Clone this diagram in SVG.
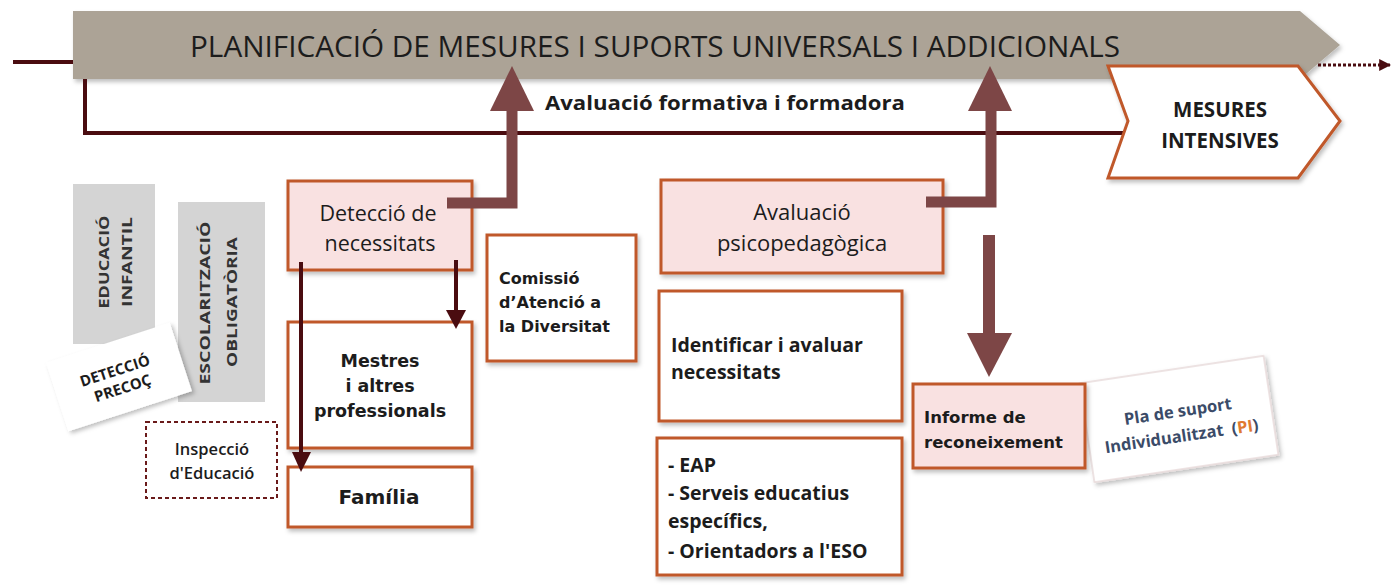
<svg xmlns="http://www.w3.org/2000/svg" width="1394" height="585" viewBox="0 0 1394 585">
<defs>
<filter id="sh" x="-10%" y="-10%" width="125%" height="130%">
<feDropShadow dx="2" dy="3" stdDeviation="2" flood-color="#000" flood-opacity="0.25"/>
</filter>
<marker id="ahd" viewBox="0 0 10 10" refX="9" refY="5" markerWidth="4" markerHeight="4" orient="auto" markerUnits="strokeWidth">
<path d="M0,0 L10,5 L0,10 z" fill="#4a0c10"/>
</marker>
</defs>
<style>
.box{fill:#fff;stroke:#c0582a;stroke-width:3}
.pink{fill:#f9e1e1;stroke:#c0582a;stroke-width:3}
.os{font-family:"Open Sans","Liberation Sans",sans-serif;fill:#1c1c1c}
.dj{font-family:"DejaVu Sans","Liberation Sans",sans-serif;font-weight:bold;fill:#1c1c1c}
.gray{fill:#d4d4d4}
.big{fill:#7d4646}
.thin{stroke:#4a0c10;stroke-width:4;fill:none}
.rot{font-family:"Open Sans","Liberation Sans",sans-serif;font-size:15px;font-weight:bold;fill:#333}
</style>

<!-- banner -->
<g id="banner">
<polygon points="73,11 1300,11 1340,45 1300,79 73,79" fill="#aca396" filter="url(#sh)"/>
<text class="os" x="190" y="57" font-size="29" fill="#1a1a1a" textLength="930" lengthAdjust="spacingAndGlyphs">PLANIFICACIÓ DE MESURES I SUPORTS UNIVERSALS I ADDICIONALS</text>
</g>

<g id="bracket">
<line x1="13" y1="62" x2="73" y2="62" class="thin"/>
<polyline points="85,79 85,133 1124,133" class="thin"/>
<line x1="1318" y1="65" x2="1390" y2="65" stroke="#4a0c10" stroke-width="3" stroke-dasharray="3 2" marker-end="url(#ahd)"/>
</g>

<g id="avaluacio-formativa">
<text class="os" x="545" y="110" font-size="19.5" font-weight="bold" textLength="360" lengthAdjust="spacingAndGlyphs">Avaluació formativa i formadora</text>
</g>

<g id="mesures-intensives">
<polygon points="1108,66 1298,66 1340,121 1298,178 1108,178 1128,121" fill="#fff" stroke="#c0582a" stroke-width="3" filter="url(#sh)"/>
<text class="os" x="1220" y="117" font-size="20.5" font-weight="bold" text-anchor="middle">MESURES</text>
<text class="os" x="1220" y="148" font-size="20.5" font-weight="bold" text-anchor="middle">INTENSIVES</text>
</g>

<g id="educacio-infantil">
<rect class="gray" x="73" y="184" width="82" height="160"/>
<text class="rot" text-anchor="middle" transform="translate(109,262) rotate(-90)" textLength="93" lengthAdjust="spacingAndGlyphs">EDUCACIÓ</text>
<text class="rot" text-anchor="middle" transform="translate(132,262) rotate(-90)" textLength="90" lengthAdjust="spacingAndGlyphs">INFANTIL</text>
</g>

<g id="escolaritzacio">
<rect class="gray" x="178" y="202" width="87" height="200"/>
<text class="rot" text-anchor="middle" transform="translate(210,303) rotate(-90)" textLength="163" lengthAdjust="spacingAndGlyphs">ESCOLARITZACIÓ</text>
<text class="rot" text-anchor="middle" transform="translate(237,302) rotate(-90)" textLength="130" lengthAdjust="spacingAndGlyphs">OBLIGATÒRIA</text>
</g>

<g id="deteccio-precoc" transform="translate(119,377) rotate(-18)">
<rect x="-65" y="-36" width="130" height="72" fill="#fff" filter="url(#sh)"/>
<text class="os" x="-2" y="-2" font-size="15" font-weight="bold" fill="#333" text-anchor="middle">DETECCIÓ</text>
<text class="os" x="0" y="17" font-size="15" font-weight="bold" fill="#333" text-anchor="middle">PRECOÇ</text>
</g>

<g id="inspeccio">
<rect x="146" y="422" width="131" height="76" fill="#fff" stroke="#6a1a1a" stroke-width="2" stroke-dasharray="4 3"/>
<text class="os" x="212" y="455" font-size="16.5" font-weight="600" fill="#333" text-anchor="middle">Inspecció</text>
<text class="os" x="212" y="479" font-size="16.5" font-weight="600" fill="#333" text-anchor="middle">d'Educació</text>
</g>

<g id="deteccio">
<rect class="pink" x="288" y="181" width="184" height="89" filter="url(#sh)"/>
<text class="os" x="378" y="221" font-size="21.5" font-weight="500" text-anchor="middle">Detecció de</text>
<text class="os" x="380" y="251" font-size="21.5" font-weight="500" text-anchor="middle">necessitats</text>
</g>

<g id="mestres">
<rect class="box" x="288" y="322" width="184" height="126" filter="url(#sh)"/>
<text class="dj" x="380" y="367" font-size="17.5" text-anchor="middle">Mestres</text>
<text class="dj" x="380" y="392" font-size="17.5" text-anchor="middle">i altres</text>
<text class="dj" x="380" y="417" font-size="17.5" text-anchor="middle">professionals</text>
</g>

<g id="familia">
<rect class="box" x="288" y="467" width="184" height="60" filter="url(#sh)"/>
<text class="dj" x="379" y="504" font-size="20" text-anchor="middle">Família</text>
</g>

<g id="comissio">
<rect class="box" x="487" y="235" width="149" height="126" filter="url(#sh)"/>
<text class="dj" x="499" y="284" font-size="16">Comissió</text>
<text class="dj" x="499" y="308" font-size="16">d’Atenció a</text>
<text class="dj" x="499" y="332" font-size="16">la Diversitat</text>
</g>

<g id="avaluacio-psico">
<rect class="pink" x="661" y="180" width="282" height="93" filter="url(#sh)"/>
<text class="os" x="802" y="220" font-size="22" font-weight="500" text-anchor="middle">Avaluació</text>
<text class="os" x="802" y="251" font-size="22" font-weight="500" text-anchor="middle">psicopedagògica</text>
</g>

<g id="identificar">
<rect class="box" x="659" y="291" width="243" height="130" filter="url(#sh)"/>
<text class="os" x="671" y="352" font-size="19.5" font-weight="bold">Identificar i avaluar</text>
<text class="os" x="671" y="379" font-size="19.5" font-weight="bold">necessitats</text>
</g>

<g id="eap">
<rect class="box" x="657" y="438" width="245" height="137" filter="url(#sh)"/>
<text class="os" x="668" y="472" font-size="19.5" font-weight="bold">- EAP</text>
<text class="os" x="668" y="500" font-size="19.5" font-weight="bold">- Serveis educatius</text>
<text class="os" x="668" y="528" font-size="19.5" font-weight="bold">específics,</text>
<text class="os" x="668" y="558" font-size="19.5" font-weight="bold">- Orientadors a l'ESO</text>
</g>

<g id="pla-suport" transform="translate(1179,419) rotate(-8.5)">
<rect x="-93" y="-50" width="186" height="100" fill="#fff" stroke="#e8dada" stroke-width="1.5" filter="url(#sh)"/>
<text x="0" y="-2" font-family="Open Sans, Liberation Sans, sans-serif" font-size="16.5" font-weight="bold" fill="#3b4b68" text-anchor="middle">Pla de suport</text>
<text x="0" y="23" font-family="Open Sans, Liberation Sans, sans-serif" font-size="16.5" font-weight="bold" fill="#3b4b68" text-anchor="middle">Individualitzat <tspan dx="4">(</tspan><tspan fill="#e07a30">PI</tspan>)</text>
</g>

<g id="informe">
<rect class="pink" x="913" y="384" width="172" height="84" filter="url(#sh)"/>
<text class="dj" x="924" y="423" font-size="16.5">Informe de</text>
<text class="dj" x="924" y="448" font-size="16.5">reconeixement</text>
</g>

<g id="connectors">
<!-- big arrow 1 -->
<polyline points="447,203 512,203 512,108" fill="none" stroke="#7d4646" stroke-width="11"/>
<polygon class="big" points="490,111 534,111 512,66"/>
<!-- big arrow 2 -->
<polyline points="926,202 991,202 991,108" fill="none" stroke="#7d4646" stroke-width="11"/>
<polygon class="big" points="968,111 1012,111 990,66"/>
<!-- big arrow 3 down -->
<line x1="989" y1="235" x2="989" y2="336" stroke="#7d4646" stroke-width="12"/>
<polygon class="big" points="967,333 1012,333 989,377"/>
<!-- small arrows -->
<line x1="301" y1="262" x2="301" y2="455" stroke="#4a0c10" stroke-width="4"/>
<polygon points="292,452 311,452 301,472" fill="#4a0c10"/>
<line x1="456" y1="260" x2="456" y2="312" stroke="#4a0c10" stroke-width="4"/>
<polygon points="446,310 466,310 456,329" fill="#4a0c10"/>
</g>
</svg>
